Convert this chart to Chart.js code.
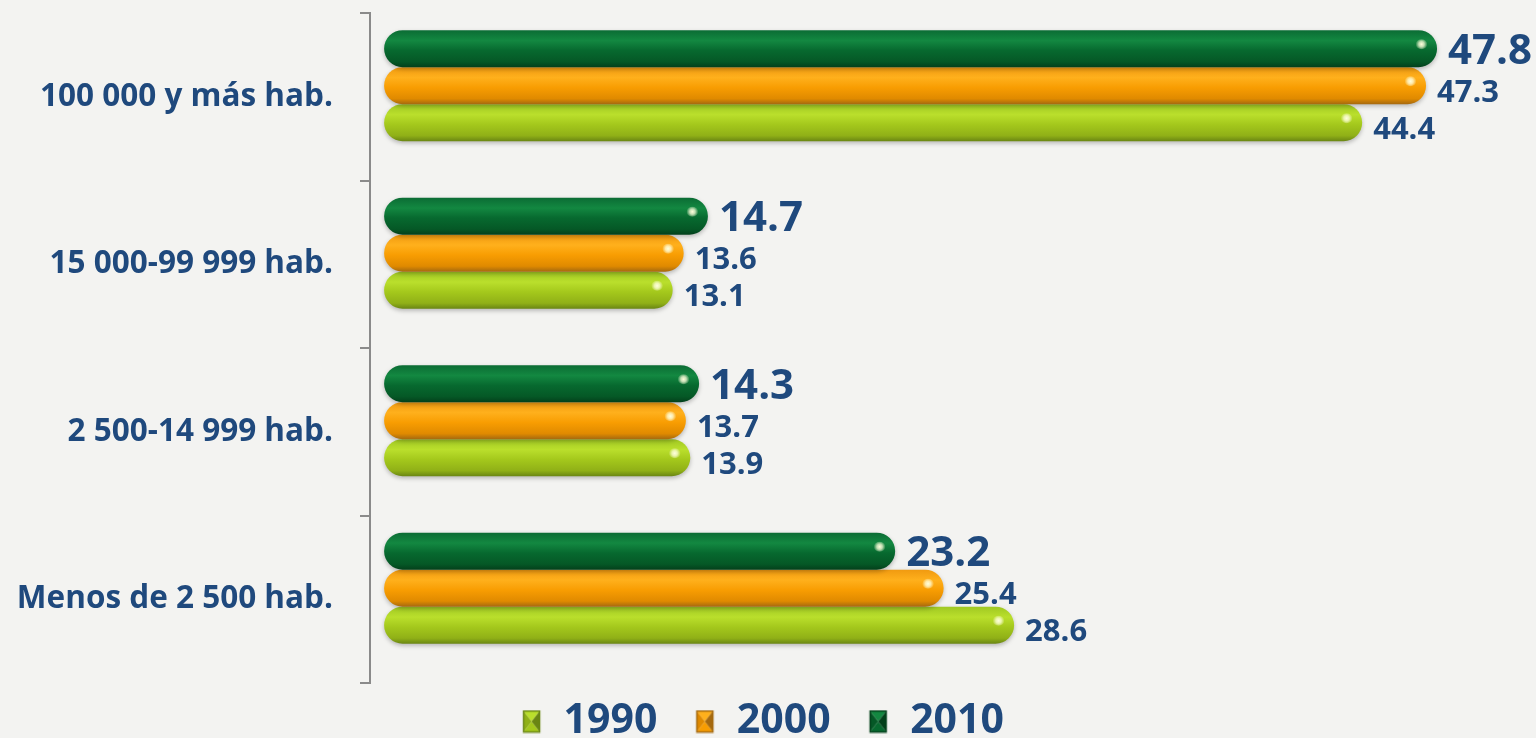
<!DOCTYPE html>
<html lang="es">
<head>
<meta charset="utf-8">
<title>Viviendas por tamaño de localidad</title>
<script src="https://cdn.jsdelivr.net/npm/chart.js@4.4.1/dist/chart.umd.min.js"></script>
<style>
  html, body { margin: 0; padding: 0; background: #f3f3f1; }
  #wrap { width: 1536px; height: 738px; }
</style>
</head>
<body>
<div id="wrap"><canvas id="chart"></canvas></div>
<script>
// categories (top to bottom) and one array per census year
var categories = ['100 000 y más hab.', '15 000-99 999 hab.', '2 500-14 999 hab.', 'Menos de 2 500 hab.'];
var years = ['2010', '2000', '1990'];
var values2010 = [47.8, 14.7, 14.3, 23.2];
var values2000 = [47.3, 13.6, 13.7, 25.4];
var values1990 = [44.4, 13.1, 13.9, 28.6];

var textBlue = '#1f497d';
var axisGray = '#8a8a8a';

// cylinder look: colours from top edge to bottom edge
var shadeStops = [0, 0.28, 0.55, 0.85, 1];
var barShades = {
    '2010': ['#0b6c34', '#138841', '#07692f', '#055826', '#03401b'],
    '2000': ['#f09a10', '#ffb01c', '#f89d02', '#e08a00', '#a5690f'],
    '1990': ['#a0c822', '#badf2c', '#a4c81c', '#90b017', '#6a8613']
};

function toPoints(values) {
    return values.map(function (v, i) { return {x: v, y: i}; });
}

// bevelled legend squares; the canvas is wider than the square so the
// square sits close to its text like in the original
function makeIcon(shades) {
    var c = document.createElement('canvas');
    c.width = 41; c.height = 24;
    var g = c.getContext('2d');
    var l = 21, r = 38, t = 1, b = 23;
    var mx = (l + r) / 2, my = (t + b) / 2;
    function tri(x1, y1, x2, y2, col) {
        g.beginPath(); g.moveTo(x1, y1); g.lineTo(x2, y2); g.lineTo(mx, my); g.closePath();
        g.fillStyle = col; g.fill();
    }
    tri(l, t, r, t, shades[1]);
    tri(l, b, r, b, shades[2]);
    tri(l, t, l, b, shades[3]);
    tri(r, t, r, b, shades[4]);
    g.strokeStyle = shades[4];
    g.lineWidth = 1.5;
    g.strokeRect(l + 0.5, t + 0.5, r - l - 1, b - t - 1);
    return c;
}

function makeDataset(label, values) {
    return {
        label: label,
        data: toPoints(values),
        yAxisID: 'yb',
        xAxisID: 'x',
        backgroundColor: barShades[label][2],
        borderRadius: 20,
        borderSkipped: false,
        categoryPercentage: 0.663,
        barPercentage: 1
    };
}

var datasets = [
    makeDataset(years[0], values2010),
    makeDataset(years[1], values2000),
    makeDataset(years[2], values1990)
];
var legendIcons = datasets.map(function (ds) { return makeIcon(barShades[ds.label]); });

var barLook = {
    id: 'barLook',
    beforeDatasetsDraw: function (chart) {
        var ctx = chart.ctx;
        chart.data.datasets.forEach(function (ds, i) {
            var shades = barShades[ds.label];
            chart.getDatasetMeta(i).data.forEach(function (bar) {
                var p = bar.getProps(['y', 'height'], true);
                var grad = ctx.createLinearGradient(0, p.y - p.height / 2, 0, p.y + p.height / 2);
                shadeStops.forEach(function (s, k) { grad.addColorStop(s, shades[k]); });
                bar.options = Object.assign({}, bar.options, {backgroundColor: grad});
            });
        });
        ctx.save();
        ctx.shadowColor = 'rgba(0,0,0,0.25)';
        ctx.shadowBlur = 4;
        ctx.shadowOffsetY = 2;
    },
    afterDatasetsDraw: function (chart) {
        var ctx = chart.ctx;
        ctx.restore();
        chart.data.datasets.forEach(function (ds, i) {
            var big = ds.label === '2010';
            chart.getDatasetMeta(i).data.forEach(function (bar, j) {
                var p = bar.getProps(['x', 'y', 'height'], true);
                // shiny spot near the bar end
                var hx = p.x - p.height * 0.42, hy = p.y - p.height * 0.12;
                var rg = ctx.createRadialGradient(hx, hy, 0, hx, hy, 6);
                rg.addColorStop(0, 'rgba(255,255,220,1)');
                rg.addColorStop(0.45, 'rgba(255,255,220,0.75)');
                rg.addColorStop(1, 'rgba(255,255,220,0)');
                ctx.fillStyle = rg;
                ctx.beginPath();
                ctx.ellipse(hx, hy, 6, 5, 0, 0, Math.PI * 2);
                ctx.fill();

                ctx.font = 'bold ' + (big ? 42 : 31) + 'px "Open Sans"';
                ctx.fillStyle = textBlue;
                ctx.textAlign = 'left';
                ctx.textBaseline = 'middle';
                ctx.fillText(ds.data[j].x.toFixed(1), p.x + 11, p.y + (big ? 3 : 7));
            });
        });
    }
};

var ctx = document.getElementById('chart').getContext('2d');
var myBarChart = new Chart(ctx, {
    type: 'bar',
    data: {
        labels: categories,
        datasets: datasets
    },
    options: {
        indexAxis: 'y',
        responsive: true,
        maintainAspectRatio: false,
        animation: false,
        layout: {
            padding: {top: 13, right: 30, bottom: -14, left: 0}
        },
        scales: {
            x: {
                type: 'linear',
                display: false,
                min: -0.64,
                max: 50.93
            },
            y: {
                type: 'category',
                position: 'left',
                offset: true,
                grid: {
                    offset: true,
                    drawOnChartArea: false,
                    drawTicks: true,
                    tickLength: 10,
                    color: axisGray,
                    lineWidth: 2
                },
                border: {display: true, color: axisGray, width: 2},
                ticks: {
                    color: textBlue,
                    padding: 27,
                    font: {family: 'Open Sans', weight: 'bold', size: 31.5}
                },
                afterFit: function (scale) {
                    scale.width = 370;
                    scale.paddingTop = 0;
                    scale.paddingBottom = 0;
                }
            },
            // hidden index axis for the bars: groups sit a bit above the band centre
            yb: {
                type: 'linear',
                display: false,
                reverse: true,
                offset: false,
                min: -0.434,
                max: 3.566,
                ticks: {stepSize: 1, includeBounds: false}
            }
        },
        plugins: {
            tooltip: {enabled: false},
            legend: {
                position: 'bottom',
                reverse: true,
                labels: {
                    usePointStyle: true,
                    pointStyleWidth: 41,
                    boxWidth: 17,
                    boxHeight: 17,
                    padding: 18,
                    color: textBlue,
                    font: {family: 'Open Sans', weight: 'bold', size: 41},
                    generateLabels: function (chart) {
                        var items = Chart.defaults.plugins.legend.labels.generateLabels(chart);
                        items.forEach(function (it) { it.pointStyle = legendIcons[it.datasetIndex]; });
                        return items;
                    }
                }
            }
        }
    },
    plugins: [barLook]
});
</script>
</body>
</html>
